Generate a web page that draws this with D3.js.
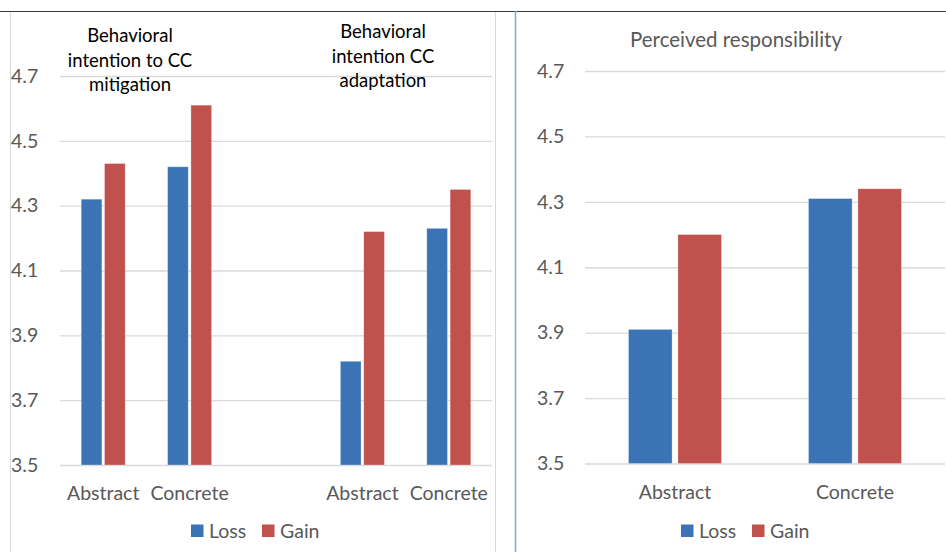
<!DOCTYPE html>
<html>
<head>
<meta charset="utf-8">
<script src="https://cdn.jsdelivr.net/npm/d3@7"></script>
<style>
  html, body { margin: 0; padding: 0; background: #fff; }
  svg text { font-family: Lato, "Open Sans", sans-serif; }
</style>
</head>
<body>
<svg id="chart" width="946" height="552"></svg>
<script>
// Left panel: behavioral intention (mitigation and adaptation), with an empty spacer slot
const leftCategories = ["A1", "C1", "gap", "A2", "C2"];
const leftCategoryLabels = ["Abstract", "Concrete", "", "Abstract", "Concrete"];
const leftLoss = [4.32, 4.42, null, 3.82, 4.23];
const leftGain = [4.43, 4.61, null, 4.22, 4.35];

// Right panel: perceived responsibility
const rightCategories = ["Abstract", "Concrete"];
const rightLoss = [3.91, 4.31];
const rightGain = [4.20, 4.34];

const yTicks = [3.5, 3.7, 3.9, 4.1, 4.3, 4.5, 4.7];
const seriesNames = ["Loss", "Gain"];
const seriesColors = ["#3A74B7", "#C0514D"];

const svg = d3.select("#chart");
const labelColor = "#595959";
const gridColor = "#D9D9D9";

// frames around the two panels
svg.append("rect").attr("x", 10.5).attr("y", 11.5).attr("width", 485).attr("height", 560)
  .attr("fill", "none").attr("stroke", "#D9D9D9");
svg.append("line").attr("x1", 0).attr("x2", 946).attr("y1", 11.5).attr("y2", 11.5)
  .attr("stroke", "#404040").attr("stroke-width", 1);
svg.append("line").attr("x1", 515.5).attr("x2", 515.5).attr("y1", 11).attr("y2", 552)
  .attr("stroke", "#7FA6D6").attr("stroke-width", 1.5);

function drawPanel(opts) {
  const { x0, x1, yTop, yBottom, cats, labels, loss, gain, barW, barGap, tickX, catY } = opts;
  const y = d3.scaleLinear().domain([3.5, 4.7]).range([yBottom, yTop]);
  const x = d3.scaleBand().domain(cats).range([x0, x1]).paddingInner(0).paddingOuter(0);
  const g = svg.append("g");

  // gridlines
  const yAxis = d3.axisLeft(y).tickValues(yTicks).tickFormat(d3.format(".1f"))
    .tickSize(-(x1 - x0)).tickPadding(0);
  const ga = g.append("g").attr("transform", `translate(${x0},0)`).call(yAxis);
  ga.select(".domain").remove();
  ga.selectAll(".tick line").attr("stroke", gridColor).attr("stroke-width", 1.3);
  ga.selectAll(".tick text").attr("x", tickX - x0).attr("text-anchor", "start")
    .attr("fill", labelColor).attr("font-size", 19.5).attr("dy", "0.32em");

  // bars
  const inner = d3.scaleBand().domain(seriesNames).range([0, barW * 2 + barGap]).paddingInner(barGap / (barW * 2 + barGap));
  const rows = [];
  cats.forEach((c, i) => {
    [loss[i], gain[i]].forEach((v, j) => {
      if (v != null) rows.push({ c, s: seriesNames[j], v, color: seriesColors[j] });
    });
  });
  g.append("g").selectAll("rect").data(rows).join("rect")
    .attr("x", d => x(d.c) + x.bandwidth() / 2 - (barW * 2 + barGap) / 2 + inner(d.s))
    .attr("width", inner.bandwidth())
    .attr("y", d => y(d.v))
    .attr("height", d => y(3.5) - y(d.v))
    .attr("fill", d => d.color)
    .attr("stroke", "rgba(255,255,255,0.35)").attr("stroke-width", 0.8);

  // category labels
  g.append("g").selectAll("text").data(cats).join("text")
    .attr("x", d => x(d) + x.bandwidth() / 2)
    .attr("y", catY)
    .attr("text-anchor", "middle")
    .attr("fill", labelColor).attr("font-size", 19.5)
    .text((d, i) => labels[i]);
  return { x, y };
}

drawPanel({
  x0: 60, x1: 492, yTop: 76, yBottom: 465,
  cats: leftCategories, labels: leftCategoryLabels, loss: leftLoss, gain: leftGain,
  barW: 19.5, barGap: 5, tickX: 11, catY: 500
});
drawPanel({
  x0: 585, x1: 945, yTop: 71, yBottom: 463.5,
  cats: rightCategories, labels: rightCategories, loss: rightLoss, gain: rightGain,
  barW: 41, barGap: 11, tickX: 537, catY: 499
});

// panel titles
function multiline(x, y0, lines, size, color) {
  const t = svg.append("text").attr("text-anchor", "middle").attr("fill", color).attr("font-size", size);
  lines.forEach((l, i) => t.append("tspan").attr("x", x).attr("y", y0 + i * 24.5).text(l));
}
multiline(130, 42, ["Behavioral", "intention to CC", "mitigation"], 18.5, "#000");
multiline(383, 38, ["Behavioral", "intention CC", "adaptation"], 18.5, "#000");
multiline(736, 47, ["Perceived responsibility"], 20.5, labelColor);

// legends
function legend(xStart, yMid) {
  const g = svg.append("g").attr("transform", `translate(${xStart},${yMid})`);
  const offsets = [0, 71];
  seriesNames.forEach((s, i) => {
    g.append("rect").attr("x", offsets[i]).attr("y", -6.5).attr("width", 12.5).attr("height", 12.5).attr("fill", seriesColors[i]);
    g.append("text").attr("x", offsets[i] + 18).attr("y", 0).attr("dy", "0.35em")
      .attr("fill", labelColor).attr("font-size", 19.5).text(s);
  });
}
legend(191, 531);
legend(681, 531);
</script>
</body>
</html>
